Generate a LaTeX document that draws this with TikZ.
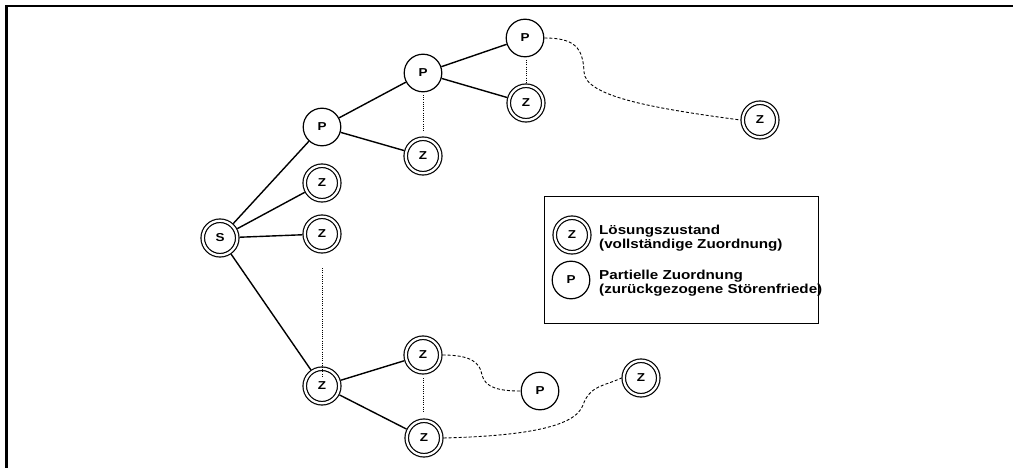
\documentclass[tikz,border=0pt]{standalone}
\usepackage{fontspec}
\setmainfont{Liberation Sans}
\newfontfamily\wfont{Liberation Sans}[FakeStretch=1.17,BoldFeatures={FakeStretch=1.17}]
\begin{document}
\begin{tikzpicture}[x=1pt,y=-1pt,
  zst/.style={circle,draw,line width=1.2pt,double,double distance=2.3pt,minimum size=34.5pt,inner sep=0pt,outer sep=2.35pt,font=\wfont\bfseries\fontsize{11.5}{12}\selectfont},
  pst/.style={circle,draw,line width=1.2pt,minimum size=37.6pt,inner sep=0pt,outer sep=0.6pt,font=\wfont\bfseries\fontsize{11.5}{12}\selectfont},
  edge/.style={line width=1.4pt},
  dotl/.style={line width=0.9pt,dash pattern=on 1pt off 1.2pt},
  dashl/.style={line width=0.9pt,dash pattern=on 3pt off 2pt},
  legtext/.style={anchor=west,align=left,inner sep=0pt,font=\wfont\bfseries\fontsize{13}{14}\selectfont}]
\useasboundingbox (0,0) rectangle (1013,468);
% frame
\draw[line width=2pt] (5,6.3) -- (1013,6.3);
\draw[line width=3pt] (6.5,5.3) -- (6.5,468);
% nodes
\node[zst] (S) at (220,238) {S};
\node[pst] (P1) at (322,127) {P};
\node[zst] (Za) at (322,183) {Z};
\node[zst] (Zb) at (322,234) {Z};
\node[pst] (P2) at (423,73) {P};
\node[zst] (Zc) at (423,156) {Z};
\node[pst] (P3) at (525,38) {P};
\node[zst] (Zd) at (526,103) {Z};
\node[zst] (Ze) at (760,120) {Z};
\node[zst] (Zf) at (322,386) {Z};
\node[zst] (Zg) at (423,355) {Z};
\node[zst] (Zh) at (424,438) {Z};
\node[pst] (Pb) at (540,391) {P};
\node[zst] (Zi) at (641,378) {Z};
% solid edges
\draw[edge] (S) -- (P1);
\draw[edge] (S) -- (Za);
\draw[edge] (S) -- (Zb);
\draw[edge] (S) -- (Zf);
\draw[edge] (P1) -- (P2);
\draw[edge] (P1) -- (Zc);
\draw[edge] (P2) -- (P3);
\draw[edge] (P2) -- (Zd);
\draw[edge] (Zf) -- (Zg);
\draw[edge] (Zf) -- (Zh);
% dotted
\coordinate (d1a) at (423,95); \coordinate (d1b) at (423,131);
\coordinate (d2a) at (526,60); \coordinate (d2b) at (526,83);
\coordinate (d3a) at (322,268); \coordinate (d3b) at (322,378);
\coordinate (d4a) at (423,378); \coordinate (d4b) at (423,412);
\draw[dotl] (d1a) -- (d1b);
\draw[dotl] (d2a) -- (d2b);
\draw[dotl] (d3a) -- (d3b);
\draw[dotl] (d4a) -- (d4b);
% dashed curves
\coordinate (c1) at (584,72);
\draw[dashl] (P3.east) .. controls (575,38) and (583,48) .. (c1) .. controls (585,96) and (650,108) .. (Ze.west);
\coordinate (c2) at (482,375);
\draw[dashl] (Zg.east) .. controls (470,355) and (480,362) .. (c2) .. controls (485,388) and (500,391) .. (Pb.west);
\coordinate (c3) at (583,405);
\draw[dashl] (Zh.east) .. controls (520,436) and (575,428) .. (c3) .. controls (590,385) and (605,386) .. (Zi.west);
% legend
\node[draw,line width=1.4pt,minimum width=274pt,minimum height=127pt,inner sep=0pt,anchor=north west] (legend) at (544,196) {};
\node[zst] (LZ) at (572,235) {Z};
\node[pst] (LP) at (571,280) {P};
\node[legtext] (LZt) at (599,238) {Lösungszustand\\(vollständige Zuordnung)};
\node[legtext] (LPt) at (599,283) {Partielle Zuordnung\\(zurückgezogene Störenfriede)};
\end{tikzpicture}
\end{document}
